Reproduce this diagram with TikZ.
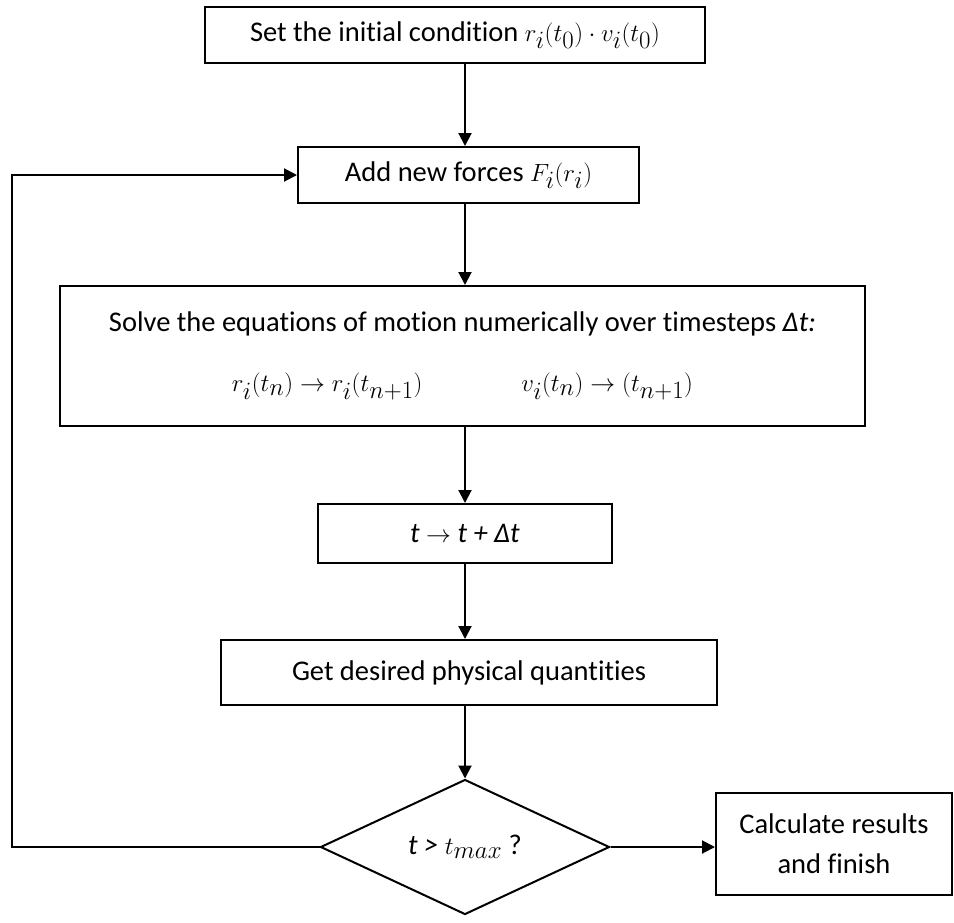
\documentclass[tikz,border=0pt]{standalone}
\usepackage{fontspec}
\setmainfont{Carlito}[Ligatures=NoCommon]
\usepackage{tikz}
\usetikzlibrary{arrows.meta,shapes.geometric,calc}
\newcommand{\mth}[1]{{\fontsize{33}{40}\selectfont$#1$}}

\begin{document}
\begin{tikzpicture}[x=1pt,y=-1pt,line width=2pt,
    box/.style={draw,rectangle,inner sep=0pt,align=center},
    decide/.style={draw,diamond,inner sep=0pt,aspect=2.1},
    arr/.style={-{Triangle[length=13pt,width=13pt]}},
    every node/.style={font=\fontsize{28.5}{40}\selectfont}]
        \useasboundingbox (0,0) rectangle (954,922);
        \node[box,minimum width=500,minimum height=56] (init) at (455,35) {Set the initial condition \mth{r_i(t_0)\cdot v_i(t_0)}};
        \node[box,minimum width=341,minimum height=56] (forces) at (468.5,175) {Add new forces \mth{F_i(r_i)}};
        \node[box,minimum width=805,minimum height=140] (solve) at (462.5,356) {Solve the equations of motion numerically over timesteps \textit{Δt:}\\[20pt]
            \mth{r_i(t_n)\rightarrow r_i(t_{n+1})\qquad\quad v_i(t_n)\rightarrow(t_{n+1})}};
        \node[box,minimum width=294,minimum height=59] (step) at (465,533.5) {\textit{t} $\rightarrow$ \textit{t + Δt}};
        \node[box,minimum width=496,minimum height=65] (quant) at (469,672.5) {Get desired physical quantities};
        \node[decide,minimum width=289,minimum height=135] (check) at (465,847) {\textit{t >} \mth{t_{max}} ?};
        \node[box,minimum width=236,minimum height=102] (finish) at (834,844) {Calculate results\\and finish};
        \coordinate (loop) at (12,847);
        \draw[arr] (init.south -| check.north) -- (forces.north -| check.north);
        \draw[arr] (forces.south -| check.north) -- (solve.north -| check.north);
        \draw[arr] (solve.south -| check.north) -- (step.north -| check.north);
        \draw[arr] (step.south -| check.north) -- (quant.north -| check.north);
        \draw[arr] (quant.south -| check.north) -- (check.north);
        \draw[arr] (check.east) -- (check.east -| finish.west);
        \draw[arr] (check.west) -- (loop) |- (forces.west);
\end{tikzpicture}
\end{document}
